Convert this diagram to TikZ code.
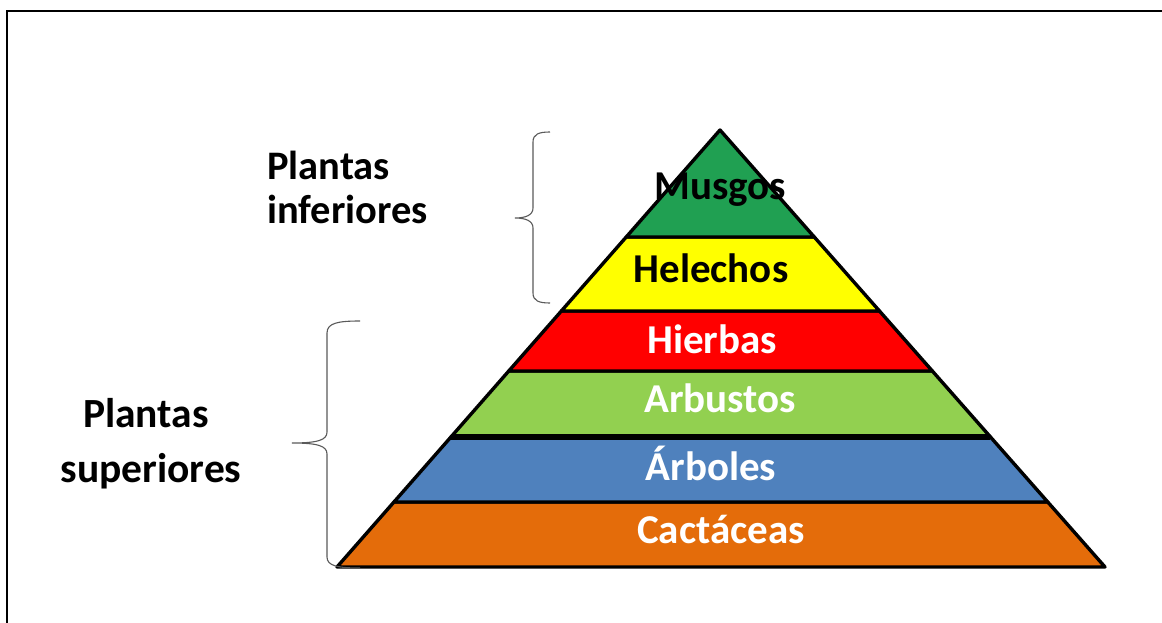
\documentclass[tikz,border=0pt]{standalone}
\usepackage{fontspec}
\setmainfont{Carlito}
\usetikzlibrary{calc}
\definecolor{mgreen}{RGB}{32,160,82}
\definecolor{myellow}{RGB}{255,255,0}
\definecolor{mred}{RGB}{255,0,0}
\definecolor{mlgreen}{RGB}{146,208,80}
\definecolor{mblue}{RGB}{79,129,189}
\definecolor{morange}{RGB}{228,108,10}
\definecolor{bracegray}{RGB}{90,90,90}
\tikzset{
  band/.style={draw=black,line width=3.4pt,line join=round},
  lbl/.style={anchor=base,font=\bfseries\fontsize{41}{49}\selectfont,inner sep=0pt},
  side/.style={anchor=base west,font=\bfseries\fontsize{40.5}{48}\selectfont,inner sep=0pt},
  bracestyle/.style={draw=bracegray,line width=1.1pt},
}
\begin{document}
\begin{tikzpicture}[x=1pt,y=-1pt]
\useasboundingbox (0,0) rectangle (1162,623);
\fill[white] (0,0) rectangle (1162,623);
% frame (top and left visible)
\draw[line width=2pt] (7,623) -- (7,11) -- (1162,11);
% pyramid corners
\coordinate (apex) at (720,130);
\coordinate (bl) at (337,567);
\coordinate (br) at (1105,567);
\foreach \n/\t in {a/0.2449,b/0.4142,c/0.5515,d/0.7025,e/0.8513}{
  \coordinate (L\n) at ($(apex)!\t!(bl)$);
  \coordinate (R\n) at ($(apex)!\t!(br)$);
}
\draw[band,fill=morange] (Le) -- (bl) -- (br) -- (Re) -- cycle;
\draw[band,fill=mblue] (Ld) -- (Le) -- (Re) -- (Rd) -- cycle;
\draw[band,fill=mlgreen] (Lc) -- (Ld) -- (Rd) -- (Rc) -- cycle;
\draw[band,fill=mred] (Lb) -- (Lc) -- (Rc) -- (Rb) -- cycle;
\draw[band,fill=myellow] (La) -- (Lb) -- (Rb) -- (Ra) -- cycle;
\draw[band,fill=mgreen] (apex) -- (La) -- (Ra) -- cycle;
\draw[black,line width=6pt] (Ld) -- (Rd);
% labels
\node[lbl,text=black] (musgos) at (720,200) {Musgos};
\node[lbl,text=black] (helechos) at (711,282) {Helechos};
\node[lbl,text=white] (hierbas) at (712,353) {Hierbas};
\node[lbl,text=white] (arbustos) at (720,412) {Arbustos};
\node[lbl,text=white] (arboles) at (711,480) {Árboles};
\node[lbl,text=white] (cactaceas) at (721,543) {Cactáceas};
% side labels
\node[side] (pinf1) at (267,179) {Plantas};
\node[side] (pinf2) at (267,223) {inferiores};
\node[lbl,font=\bfseries\fontsize{41.5}{49}\selectfont] (psup1) at (146,427) {Plantas};
\node[lbl,font=\bfseries\fontsize{41.5}{49}\selectfont] (psup2) at (151,482) {superiores};
% braces
\draw[bracestyle] (550,132) .. controls (539,132) and (533,134) .. (533,142)
  -- (533,208) .. controls (533,215) and (526,218) .. (515,218)
  .. controls (526,218) and (533,221) .. (533,228)
  -- (533,293) .. controls (533,301) and (539,303) .. (550,303);
\draw[bracestyle] (360,321) .. controls (338,321) and (327,323) .. (327,333)
  -- (327,432) .. controls (327,440) and (318,443) .. (292,443)
  .. controls (318,443) and (327,446) .. (327,454)
  -- (327,557) .. controls (327,566) and (338,568) .. (360,568);
\end{tikzpicture}
\end{document}
